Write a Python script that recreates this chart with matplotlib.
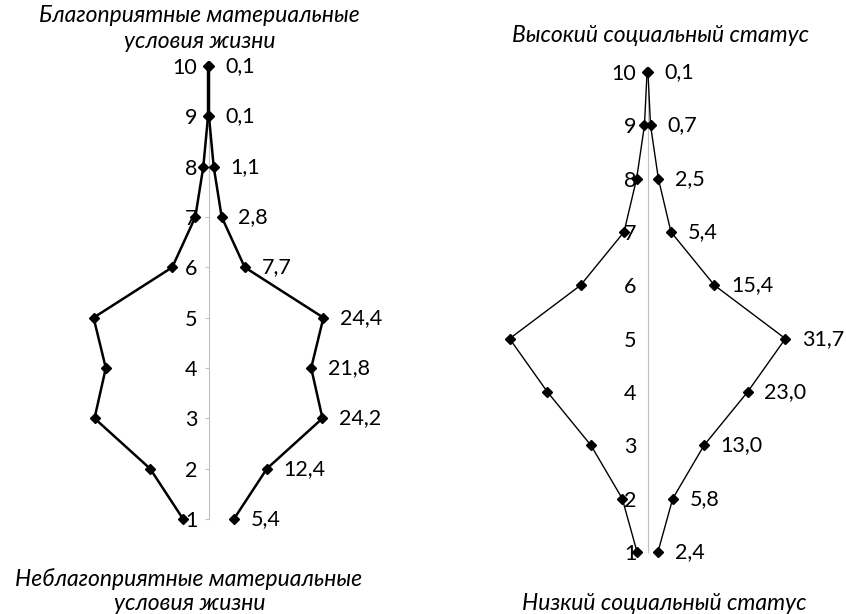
import matplotlib
matplotlib.use('Agg')
import matplotlib.pyplot as plt

plt.rcParams['font.family'] = ['Lato', 'DejaVu Sans']

levels = [1, 2, 3, 4, 5, 6, 7, 8, 9, 10]
material = [5.4, 12.4, 24.2, 21.8, 24.4, 7.7, 2.8, 1.1, 0.1, 0.1]
social = [2.4, 5.8, 13.0, 23.0, 31.7, 15.4, 5.4, 2.5, 0.7, 0.1]

W, H = 846, 614
fig = plt.figure(figsize=(W / 100, H / 100), dpi=100)


def px_axes(cx, ppu, half, y1, y10):
    # place axes so that x=0 sits at pixel cx and levels 1/10 at given pixel rows
    per = (y1 - y10) / 9.0
    bottom = (H - y1) - 0.5 * per
    height = 10 * per
    left = cx - half * ppu
    width = 2 * half * ppu
    ax = fig.add_axes([left / W, bottom / H, width / W, height / H])
    ax.set_xlim(-half, half)
    ax.set_ylim(0.5, 10.5)
    return ax


def draw(ax, vals, lw, ticklen, pad):
    neg = [-v for v in vals]
    ax.plot(neg, levels, color='black', lw=lw, marker='D', ms=5.5, clip_on=False)
    ax.plot(vals, levels, color='black', lw=lw, marker='D', ms=5.5, clip_on=False)
    for v, y in zip(vals, levels):
        ax.annotate(f"{v:.1f}".replace('.', ','), (v, y), xytext=(12, 0),
                    textcoords='offset points', va='center', ha='left', fontsize=15.5)
    for s in ['top', 'right', 'bottom']:
        ax.spines[s].set_visible(False)
    ax.spines['left'].set_position(('data', 0))
    ax.spines['left'].set_color('#c0c0c0')
    ax.spines['left'].set_bounds(1, 10)
    ax.spines['left'].set_zorder(0)
    ax.set_xticks([])
    ax.set_yticks(levels)
    ax.tick_params(axis='y', length=ticklen, color='#c0c0c0', labelsize=15.5, pad=pad)
    ax.patch.set_visible(False)


ax1 = px_axes(208.5, 4.71, 30, 519, 66)
draw(ax1, material, 1.8, 3, 5)

ax2 = px_axes(647.5, 4.35, 36, 552, 72)
draw(ax2, social, 1.0, 0, 8)

tkw = dict(ha='center', va='center', fontsize=16.5, style='italic')
fig.text(199 / W, 1 - 16 / H, 'Благоприятные материальные', **tkw)
fig.text(200 / W, 1 - 42 / H, 'условия жизни', **tkw)
fig.text(189 / W, 1 - 579 / H, 'Неблагоприятные материальные', **tkw)
fig.text(190 / W, 1 - 603 / H, 'условия жизни', **tkw)
fig.text(660 / W, 1 - 35 / H, 'Высокий социальный статус', **tkw)
fig.text(664 / W, 1 - 604 / H, 'Низкий социальный статус', **tkw)

fig.savefig('out.png', dpi=100)
